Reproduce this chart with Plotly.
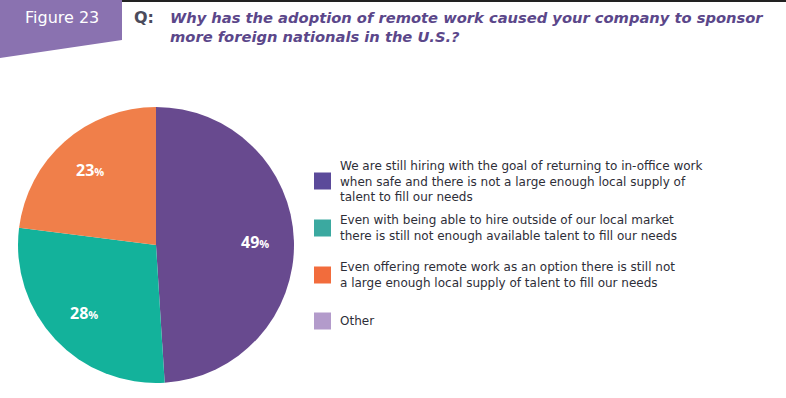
import math
import plotly.graph_objects as go

W, H = 786, 398

labels = [
    "We are still hiring with the goal of returning to in-office work<br>when safe and there is not a large enough local supply of<br>talent to fill our needs",
    "Even with being able to hire outside of our local market<br>there is still not enough available talent to fill our needs",
    "Even offering remote work as an option there is still not<br>a large enough local supply of talent to fill our needs",
    "Other",
]
values = [49, 28, 23, 0]
slice_colors = ["#684A8F", "#13B29B", "#F07F4A", "#B59ACC"]
swatch_colors = ["#5B4A9A", "#3BA9A0", "#F26C3C", "#B39BCB"]

figure_label = "Figure 23"
question = "Why has the adoption of remote work caused your company to sponsor<br>more foreign nationals in the U.S.?"

FONT = "DejaVu Sans, Verdana, sans-serif"
LABEL_FONT = "Open Sans, Arial, sans-serif"

def px(x):
    return x / W

def py(y):
    return 1 - y / H

# pie geometry (pixels)
CX, CY, R = 156, 245, 138

fig = go.Figure(
    go.Pie(
        labels=[l.split("<br>")[0] for l in labels],
        values=values,
        sort=False,
        direction="clockwise",
        rotation=0,
        marker=dict(colors=slice_colors, line=dict(width=0)),
        textinfo="none",
        showlegend=False,
        hoverinfo="label+percent",
        domain=dict(x=[px(CX - R), px(CX + R)], y=[py(CY + R), py(CY - R)]),
    )
)

shapes = [
    dict(type="rect", xref="paper", yref="paper", x0=0, x1=1, y0=py(2), y1=1,
         fillcolor="#222222", line=dict(width=0)),
    dict(type="path", xref="paper", yref="paper",
         path=f"M 0 {py(0)} L {px(122)} {py(0)} L {px(122)} {py(40)} L 0 {py(58)} Z",
         fillcolor="#8A72B0", line=dict(width=0)),
]

annotations = [
    dict(text=figure_label, x=px(62), y=py(17), xref="paper", yref="paper",
         xanchor="center", yanchor="middle", showarrow=False,
         font=dict(family=FONT, size=16, color="white")),
    dict(text="<b>Q:</b>", x=px(132), y=py(17), xref="paper", yref="paper",
         xanchor="left", yanchor="middle", showarrow=False,
         font=dict(family=FONT, size=16, color="#4B4B5C")),
    dict(text=f"<b><i>{question}</i></b>", x=px(168), y=py(27), xref="paper", yref="paper",
         xanchor="left", yanchor="middle", align="left", showarrow=False,
         font=dict(family=FONT, size=14.7, color="#5B478A")),
]

# slice value labels, placed at each slice's mid-angle
total = sum(values)
cum = 0
for v in values:
    if v > 0:
        mid = (cum + v / 2) / total * 2 * math.pi
        r = 0.72 * R
        x = CX + r * math.sin(mid)
        y = CY - r * math.cos(mid)
        annotations.append(dict(
            text=f"<b>{v}</b><span style='font-size:11px'><b>%</b></span>",
            x=px(x), y=py(y), xref="paper", yref="paper",
            xanchor="center", yanchor="middle", showarrow=False,
            font=dict(family=LABEL_FONT, size=16, color="white")))
    cum += v

# legend
swatch_centers = [181, 228, 275, 321]
for lab, col, cy in zip(labels, swatch_colors, swatch_centers):
    shapes.append(dict(type="rect", xref="paper", yref="paper",
                       x0=px(314), x1=px(331), y0=py(cy + 8.5), y1=py(cy - 8.5),
                       fillcolor=col, line=dict(width=0)))
    annotations.append(dict(text=lab, x=px(338), y=py(cy), xref="paper", yref="paper",
                            xanchor="left", yanchor="middle", align="left", showarrow=False,
                            font=dict(family=FONT, size=12, color="#2E2E38")))

fig.update_layout(
    width=W, height=H,
    margin=dict(l=0, r=0, t=0, b=0),
    paper_bgcolor="white",
    plot_bgcolor="white",
    shapes=shapes,
    annotations=annotations,
)

fig.write_html("out.html", config={"displayModeBar": False},
               post_script="document.body.style.margin='0';")
